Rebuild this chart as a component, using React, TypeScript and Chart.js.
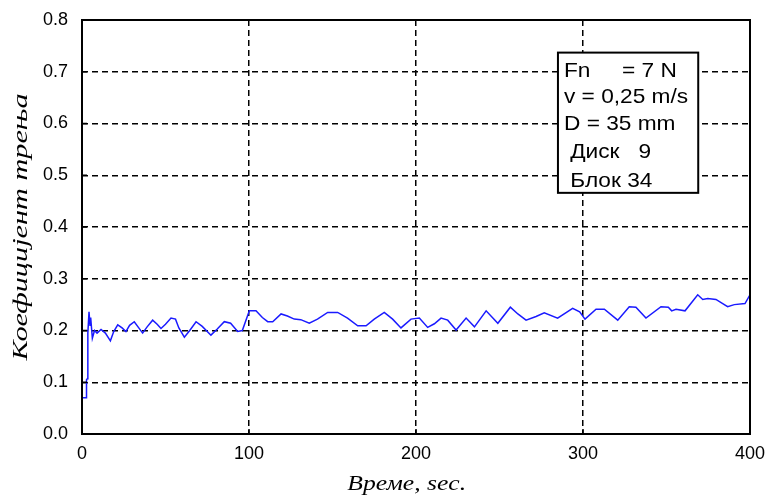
import React, { useEffect, useRef } from 'react';
import { Chart, registerables } from 'chart.js';

Chart.register(...registerables);

const TIME = [
  0.5, 2.5, 2.7, 3.2, 3.5, 4.2, 4.8, 5.2, 6.2, 7.5, 9, 11.4, 14, 17, 19, 21.4, 24, 26.3, 28.5, 31.3,
  34, 36.3, 39, 42.3, 45, 47.3, 50, 53.3, 56, 58, 61.3, 64.5, 68.3, 72, 77.2, 81, 85.2, 89, 93.2, 96,
  100.2, 104.2, 108, 111.2, 114.2, 119.2, 123, 127.1, 131, 136.1, 141, 147.1, 153.1, 159, 165.1, 170.1,
  175, 181, 186, 191, 197, 202, 207, 211, 215, 219, 224, 230, 235, 242, 249, 256.5, 261, 265.9, 271.9,
  276.8, 284.8, 293.8, 298, 301.2, 307.8, 312.8, 320.8, 327.7, 331.7, 337.7, 346.7, 351.1, 353.1, 355.7,
  361.1, 368.7, 371.7, 374.7, 379.6, 386.6, 390.6, 397, 400,
];
const FRICTION = [
  0.07, 0.07, 0.105, 0.107, 0.195, 0.236, 0.21, 0.225, 0.185, 0.2, 0.195, 0.202, 0.195, 0.18, 0.198, 0.211, 0.205, 0.198, 0.21, 0.217,
  0.205, 0.195, 0.207, 0.22, 0.212, 0.204, 0.212, 0.224, 0.222, 0.205, 0.187, 0.2, 0.217, 0.208, 0.191, 0.203, 0.217, 0.214, 0.198, 0.2,
  0.238, 0.238, 0.225, 0.217, 0.217, 0.232, 0.228, 0.222, 0.221, 0.214, 0.222, 0.235, 0.235, 0.224, 0.209, 0.209,
  0.222, 0.235, 0.222, 0.205, 0.222, 0.224, 0.206, 0.213, 0.224, 0.22, 0.201, 0.224, 0.207, 0.238, 0.214, 0.245, 0.232, 0.22, 0.227,
  0.234, 0.224, 0.243, 0.236, 0.222, 0.241, 0.241, 0.22, 0.246, 0.245, 0.224, 0.246, 0.245, 0.238, 0.241,
  0.238, 0.269, 0.26, 0.262, 0.26, 0.246, 0.25, 0.252, 0.269,
];
const X_TICKS = [0, 100, 200, 300, 400];
const Y_TICKS = [0, 0.1, 0.2, 0.3, 0.4, 0.5, 0.6, 0.7, 0.8];
const X_TITLE = 'Време, sec.';
const Y_TITLE = 'Коефицијент трења';
const INFO_LINES = ['Fn     = 7 N', 'v = 0,25 m/s', 'D = 35 mm', ' Диск   9', ' Блок 34'];
// info box extent in data units: [xMin, xMax, yTop, yBottom]
const INFO_BOX = [285, 369, 0.737, 0.466];
const INFO_BASELINES = [24, 50, 77, 105, 134];

const TITLE_FONT = 'italic 21px "Liberation Serif", "Times New Roman", serif';

const framePlugin = {
  id: 'frameAndInfo',
  afterDraw(chart: any) {
    const { ctx, chartArea, scales } = chart;
    const { left, right, top, bottom } = chartArea;
    ctx.save();
    ctx.setLineDash([]);
    ctx.strokeStyle = '#000';
    // inner ticks
    ctx.lineWidth = 1.5;
    ctx.beginPath();
    Y_TICKS.forEach((v) => {
      const y = scales.y.getPixelForValue(v);
      ctx.moveTo(left, y);
      ctx.lineTo(left + 5, y);
    });
    X_TICKS.forEach((v) => {
      const x = scales.x.getPixelForValue(v);
      ctx.moveTo(x, bottom);
      ctx.lineTo(x, bottom - 5);
    });
    ctx.stroke();
    // frame
    ctx.lineWidth = 2;
    ctx.strokeRect(left, top, right - left, bottom - top);
    // info box
    const bx0 = scales.x.getPixelForValue(INFO_BOX[0]);
    const bx1 = scales.x.getPixelForValue(INFO_BOX[1]);
    const by0 = scales.y.getPixelForValue(INFO_BOX[2]);
    const by1 = scales.y.getPixelForValue(INFO_BOX[3]);
    ctx.fillStyle = '#fff';
    ctx.fillRect(bx0, by0, bx1 - bx0, by1 - by0);
    ctx.lineWidth = 2;
    ctx.strokeRect(bx0, by0, bx1 - bx0, by1 - by0);
    ctx.fillStyle = '#000';
    ctx.font = '21px "Liberation Sans", Arial, sans-serif';
    ctx.textAlign = 'left';
    ctx.textBaseline = 'alphabetic';
    INFO_LINES.forEach((t, i) => {
      ctx.save();
      ctx.translate(bx0 + 6, by0 + INFO_BASELINES[i]);
      ctx.scale(1.08, 1);
      ctx.fillText(t, 0, 0);
      ctx.restore();
    });

    // axis titles
    ctx.font = TITLE_FONT;
    ctx.fillStyle = '#000';
    ctx.textAlign = 'center';
    ctx.textBaseline = 'alphabetic';
    // x title
    ctx.save();
    ctx.translate(left + (right - left) * 0.486, bottom + 56);
    ctx.scale(1.22, 1);
    ctx.fillText(X_TITLE, 0, 0);
    ctx.restore();
    // y title
    const wY = ctx.measureText(Y_TITLE).width;
    const targetLen = (bottom - top) * 0.645;
    ctx.save();
    ctx.translate(27, (top + bottom) / 2);
    ctx.rotate(-Math.PI / 2);
    ctx.scale(targetLen / wY, 1);
    ctx.fillText(Y_TITLE, 0, 0);
    ctx.restore();
    ctx.restore();
  },
};

export default function App() {
  const ref = useRef<HTMLCanvasElement>(null);
  useEffect(() => {
    if (!ref.current) return;
    const chart = new Chart(ref.current, {
      type: 'line',
      data: {
        datasets: [
          {
            label: Y_TITLE,
            data: TIME.map((t, i) => ({ x: t, y: FRICTION[i] })),
            borderColor: '#1a1aff',
            borderWidth: 1.5,
            pointRadius: 0,
            tension: 0,
            fill: false,
          },
        ],
      },
      options: {
        responsive: false,
        animation: false,
        events: [],
        layout: { padding: { left: 0, right: 16, top: 20, bottom: 0 } },
        plugins: { legend: { display: false }, tooltip: { enabled: false } },
        scales: {
          x: {
            type: 'linear',
            min: 0,
            max: 400,
            afterBuildTicks: (s: any) => {
              s.ticks = X_TICKS.map((v) => ({ value: v }));
            },
            afterFit: (s: any) => {
              s.height = 65;
              s.paddingLeft = 0;
              s.paddingRight = 0;
            },
            ticks: {
              color: '#000',
              padding: 9,
              font: { family: '"Liberation Sans", Arial, sans-serif', size: 18 },
              callback: (v: any) => String(v),
            },
            grid: { color: '#000', lineWidth: 1.5, drawTicks: false },
            border: { display: false, dash: [6, 4] },
            title: { display: false, text: X_TITLE },
          },
          y: {
            type: 'linear',
            min: 0,
            max: 0.8,
            afterBuildTicks: (s: any) => {
              s.ticks = Y_TICKS.map((v) => ({ value: v }));
            },
            afterFit: (s: any) => {
              s.width = 82;
              s.paddingTop = 0;
              s.paddingBottom = 0;
            },
            ticks: {
              color: '#000',
              padding: 14,
              font: { family: '"Liberation Sans", Arial, sans-serif', size: 18 },
              callback: (v: any) => Number(v).toFixed(1),
            },
            grid: { color: '#000', lineWidth: 1.5, drawTicks: false },
            border: { display: false, dash: [6, 4] },
            title: { display: false, text: Y_TITLE },
          },
        },
      },
      plugins: [framePlugin],
    });
    return () => chart.destroy();
  }, []);
  return (
    <div style={{ position: 'absolute', left: 0, top: 0, width: 766, height: 499, background: '#fff' }}>
      <canvas ref={ref} width={766} height={499} style={{ display: 'block' }} />
    </div>
  );
}
